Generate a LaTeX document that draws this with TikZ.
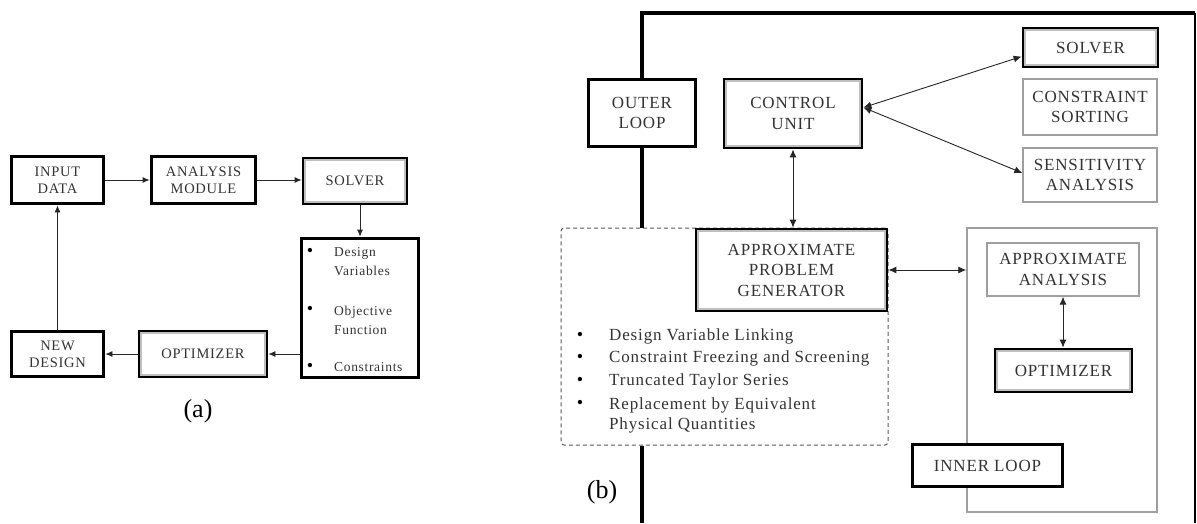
\documentclass[tikz,border=0pt]{standalone}
\usepackage{fontspec}
\setmainfont{Liberation Serif}
\newfontfamily\bxfont[LetterSpace=5]{Liberation Serif}
\usetikzlibrary{arrows.meta,calc}
\begin{document}
\begin{tikzpicture}[x=1pt,y=-1pt,
  box/.style={draw=black, line width=3.8pt, fill=white, inner sep=0pt, align=center, text=black!80},
  tbox/.style={draw=gray!75, line width=1.3pt, fill=white, inner sep=0pt, align=center, text=black!80},
  fa/.style={font=\bxfont\fontsize{14.5}{17}\selectfont},
  fb/.style={font=\bxfont\fontsize{17}{20.5}\selectfont},
  fla/.style={font=\bxfont\fontsize{13.5}{19}\selectfont, text=black!80, align=left, anchor=west, inner sep=0pt},
  flb/.style={font=\bxfont\fontsize{17}{20}\selectfont, text=black!80, align=left, anchor=west, inner sep=0pt},
  bul/.style={font=\fontsize{18}{18}\selectfont, inner sep=0pt},
  arr/.style={line width=0.8pt, draw=black!85, -{Latex[length=7pt,width=6pt]}},
  darr/.style={line width=0.9pt, draw=black!85, {Latex[length=8pt,width=7pt]}-{Latex[length=8pt,width=7pt]}},
  inr/.style={draw=gray!50, line width=2pt},
  thick4/.style={line width=4pt, draw=black}
]
\useasboundingbox (0,0) rectangle (1197,523);

% ---------------- (a) ----------------
\node[box,fa,minimum width=92pt,minimum height=47pt] (inA) at (57.5,180) {INPUT\\DATA};
\node[box,fa,minimum width=104pt,minimum height=47pt] (anA) at (203.5,180) {ANALYSIS\\MODULE};
\node[box,fa,minimum width=103pt,minimum height=45pt] (solA) at (355,181) {SOLVER};
\node[box,minimum width=117pt,minimum height=139pt] (listA) at (360,308) {};
\node[box,fa,minimum width=127pt,minimum height=45pt] (optA) at (203,354) {OPTIMIZER};
\node[box,fa,minimum width=92pt,minimum height=45pt] (ndA) at (57.5,354) {NEW\\DESIGN};

\node[bul] (bA1) at (310,252) {\textbullet};
\node[bul] (bA2) at (310,310) {\textbullet};
\node[bul] (bA3) at (310,367) {\textbullet};
\node[fla] (tA1) at (334,262) {Design\\Variables};
\node[fla] (tA2) at (334,320) {Objective\\Function};
\node[fla] (tA3) at (334,367) {Constraints};

\draw[arr] (inA.east) -- (anA.west);
\draw[arr] (anA.east) -- (anA.east -| solA.west);
\draw[arr] (solA.south -| listA.north) -- (listA.north);
\draw[arr] (listA.west |- optA.east) -- (optA.east);
\draw[arr] (optA.west) -- (ndA.east);
\draw[arr] (ndA.north) -- (inA.south);

\node[font=\fontsize{26}{26}\selectfont] (labA) at (198,411) {(a)};

% ---------------- (b) ----------------
\coordinate (tl) at (642,13);
\coordinate (tr) at (1195,13);
\coordinate (br) at (1195,523);
\coordinate (bl) at (642,523);

\node[draw=black!65, line width=1pt, dash pattern=on 4pt off 3pt, rounded corners=3pt,
      minimum width=327pt, minimum height=217pt, inner sep=0pt] (dsh) at (724.5,336.5) {};
\node[draw=gray!75, line width=1.5pt, minimum width=190pt, minimum height=284pt, inner sep=0pt] (inl) at (1062,370) {};

\node[box,fb,minimum width=107pt,minimum height=67pt] (outB) at (642,113) {OUTER\\LOOP};
\node[box,fb,minimum width=137pt,minimum height=68pt] (ctlB) at (793,113.5) {CONTROL\\UNIT};
\node[box,fb,minimum width=190pt,minimum height=81pt] (apgB) at (791.5,270) {APPROXIMATE\\PROBLEM\\GENERATOR};
\node[box,fb,minimum width=134pt,minimum height=38pt] (solB) at (1090.5,47.5) {SOLVER};
\node[tbox,fb,minimum width=134pt,minimum height=56pt] (csB) at (1090,107) {CONSTRAINT\\SORTING};
\node[tbox,fb,minimum width=134pt,minimum height=54pt] (saB) at (1090,175) {SENSITIVITY\\ANALYSIS};
\node[tbox,fb,minimum width=152pt,minimum height=53pt] (aaB) at (1063,269.5) {APPROXIMATE\\ANALYSIS};
\node[box,fb,minimum width=136pt,minimum height=42pt] (optB) at (1063.5,370.5) {OPTIMIZER};
\node[box,fb,minimum width=150pt,minimum height=42pt] (inB) at (987.5,465.5) {INNER LOOP};

\foreach \n in {solA,optA,ctlB,apgB,solB,optB}
  \draw[inr] ([shift={(3.6,3.6)}]\n.north west) rectangle ([shift={(-3.6,-3.6)}]\n.south east);

% outer loop frame
\draw[thick4, line join=miter] (outB.north) -- (tl) -- (tr);
\draw[line width=2pt] (tr) -- (br);
\draw[thick4] (outB.south) -- (outB.south |- dsh.north);
\draw[thick4] (dsh.south -| outB.south) -- (bl);

% bullets (b)
\node[bul] (bB1) at (580,336) {\textbullet};
\node[bul] (bB2) at (580,358) {\textbullet};
\node[bul] (bB3) at (580,381) {\textbullet};
\node[bul] (bB4) at (580,404) {\textbullet};
\node[flb] (tB1) at (609,336) {Design Variable Linking};
\node[flb] (tB2) at (609,358) {Constraint Freezing and Screening};
\node[flb] (tB3) at (609,381) {Truncated Taylor Series};
\node[flb] (tB4) at (609,415) {Replacement by Equivalent\\Physical Quantities};

% arrows (b)
\coordinate (cu) at ($(ctlB.east)+(0,-6)$);
\draw[darr] (ctlB.south) -- (ctlB.south |- apgB.north);
\draw[darr] (cu) -- ($(solB.west)+(0,9)$);
\draw[darr] (cu) -- ($(saB.west)+(0,-2)$);
\draw[darr] (apgB.east) -- (apgB.east -| inl.west);
\draw[darr] (aaB.south) -- (aaB.south |- optB.north);

\node[font=\fontsize{26}{26}\selectfont] (labB) at (602,492) {(b)};
\end{tikzpicture}
\end{document}
